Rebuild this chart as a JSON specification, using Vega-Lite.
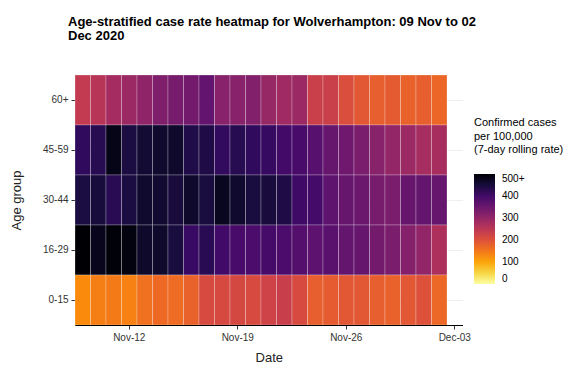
{
  "$schema": "https://vega.github.io/schema/vega-lite/v6.json",
  "width": 387.5,
  "height": 250,
  "autosize": {"type": "none"},
  "padding": {"left": 75, "top": 75, "right": 118.5, "bottom": 47},
  "background": "white",
  "title": {
    "text": ["Age-stratified case rate heatmap for Wolverhampton: 09 Nov to 02", "Dec 2020"],
    "anchor": "start",
    "frame": "group",
    "dx": -7,
    "font": "Liberation Sans",
    "fontSize": 13,
    "fontWeight": "bold",
    "color": "#000000",
    "lineHeight": 14,
    "offset": 32
  },
  "data": {
    "values": [
      {"a":"60+","d":"Nov-09","v":240},{"a":"60+","d":"Nov-10","v":255},{"a":"60+","d":"Nov-11","v":280},{"a":"60+","d":"Nov-12","v":290},{"a":"60+","d":"Nov-13","v":305},{"a":"60+","d":"Nov-14","v":325},{"a":"60+","d":"Nov-15","v":335},{"a":"60+","d":"Nov-16","v":340},{"a":"60+","d":"Nov-17","v":360},{"a":"60+","d":"Nov-18","v":315},{"a":"60+","d":"Nov-19","v":315},{"a":"60+","d":"Nov-20","v":320},{"a":"60+","d":"Nov-21","v":295},{"a":"60+","d":"Nov-22","v":285},{"a":"60+","d":"Nov-23","v":290},{"a":"60+","d":"Nov-24","v":230},{"a":"60+","d":"Nov-25","v":230},{"a":"60+","d":"Nov-26","v":205},{"a":"60+","d":"Nov-27","v":190},{"a":"60+","d":"Nov-28","v":180},{"a":"60+","d":"Nov-29","v":185},{"a":"60+","d":"Nov-30","v":175},{"a":"60+","d":"Dec-01","v":180},{"a":"60+","d":"Dec-02","v":170},
      {"a":"45-59","d":"Nov-09","v":420},{"a":"45-59","d":"Nov-10","v":430},{"a":"45-59","d":"Nov-11","v":480},{"a":"45-59","d":"Nov-12","v":445},{"a":"45-59","d":"Nov-13","v":455},{"a":"45-59","d":"Nov-14","v":460},{"a":"45-59","d":"Nov-15","v":462},{"a":"45-59","d":"Nov-16","v":438},{"a":"45-59","d":"Nov-17","v":440},{"a":"45-59","d":"Nov-18","v":418},{"a":"45-59","d":"Nov-19","v":430},{"a":"45-59","d":"Nov-20","v":420},{"a":"45-59","d":"Nov-21","v":412},{"a":"45-59","d":"Nov-22","v":398},{"a":"45-59","d":"Nov-23","v":392},{"a":"45-59","d":"Nov-24","v":375},{"a":"45-59","d":"Nov-25","v":355},{"a":"45-59","d":"Nov-26","v":345},{"a":"45-59","d":"Nov-27","v":330},{"a":"45-59","d":"Nov-28","v":315},{"a":"45-59","d":"Nov-29","v":300},{"a":"45-59","d":"Nov-30","v":290},{"a":"45-59","d":"Dec-01","v":278},{"a":"45-59","d":"Dec-02","v":275},
      {"a":"30-44","d":"Nov-09","v":445},{"a":"30-44","d":"Nov-10","v":450},{"a":"30-44","d":"Nov-11","v":428},{"a":"30-44","d":"Nov-12","v":445},{"a":"30-44","d":"Nov-13","v":460},{"a":"30-44","d":"Nov-14","v":458},{"a":"30-44","d":"Nov-15","v":448},{"a":"30-44","d":"Nov-16","v":462},{"a":"30-44","d":"Nov-17","v":447},{"a":"30-44","d":"Nov-18","v":472},{"a":"30-44","d":"Nov-19","v":460},{"a":"30-44","d":"Nov-20","v":447},{"a":"30-44","d":"Nov-21","v":448},{"a":"30-44","d":"Nov-22","v":440},{"a":"30-44","d":"Nov-23","v":403},{"a":"30-44","d":"Nov-24","v":396},{"a":"30-44","d":"Nov-25","v":365},{"a":"30-44","d":"Nov-26","v":355},{"a":"30-44","d":"Nov-27","v":350},{"a":"30-44","d":"Nov-28","v":335},{"a":"30-44","d":"Nov-29","v":330},{"a":"30-44","d":"Nov-30","v":355},{"a":"30-44","d":"Dec-01","v":358},{"a":"30-44","d":"Dec-02","v":355},
      {"a":"16-29","d":"Nov-09","v":560},{"a":"16-29","d":"Nov-10","v":475},{"a":"16-29","d":"Nov-11","v":495},{"a":"16-29","d":"Nov-12","v":488},{"a":"16-29","d":"Nov-13","v":462},{"a":"16-29","d":"Nov-14","v":462},{"a":"16-29","d":"Nov-15","v":447},{"a":"16-29","d":"Nov-16","v":410},{"a":"16-29","d":"Nov-17","v":428},{"a":"16-29","d":"Nov-18","v":400},{"a":"16-29","d":"Nov-19","v":392},{"a":"16-29","d":"Nov-20","v":388},{"a":"16-29","d":"Nov-21","v":395},{"a":"16-29","d":"Nov-22","v":388},{"a":"16-29","d":"Nov-23","v":378},{"a":"16-29","d":"Nov-24","v":368},{"a":"16-29","d":"Nov-25","v":370},{"a":"16-29","d":"Nov-26","v":358},{"a":"16-29","d":"Nov-27","v":355},{"a":"16-29","d":"Nov-28","v":340},{"a":"16-29","d":"Nov-29","v":330},{"a":"16-29","d":"Nov-30","v":318},{"a":"16-29","d":"Dec-01","v":302},{"a":"16-29","d":"Dec-02","v":268},
      {"a":"0-15","d":"Nov-09","v":128},{"a":"0-15","d":"Nov-10","v":142},{"a":"0-15","d":"Nov-11","v":146},{"a":"0-15","d":"Nov-12","v":138},{"a":"0-15","d":"Nov-13","v":157},{"a":"0-15","d":"Nov-14","v":165},{"a":"0-15","d":"Nov-15","v":163},{"a":"0-15","d":"Nov-16","v":175},{"a":"0-15","d":"Nov-17","v":210},{"a":"0-15","d":"Nov-18","v":212},{"a":"0-15","d":"Nov-19","v":214},{"a":"0-15","d":"Nov-20","v":210},{"a":"0-15","d":"Nov-21","v":222},{"a":"0-15","d":"Nov-22","v":232},{"a":"0-15","d":"Nov-23","v":210},{"a":"0-15","d":"Nov-24","v":180},{"a":"0-15","d":"Nov-25","v":184},{"a":"0-15","d":"Nov-26","v":190},{"a":"0-15","d":"Nov-27","v":190},{"a":"0-15","d":"Nov-28","v":180},{"a":"0-15","d":"Nov-29","v":175},{"a":"0-15","d":"Nov-30","v":190},{"a":"0-15","d":"Dec-01","v":200},{"a":"0-15","d":"Dec-02","v":168}
    ]
  },
  "mark": {"type": "rect", "stroke": "white", "strokeOpacity": 0.35, "strokeWidth": 0.7},
  "encoding": {
    "x": {
      "field": "d",
      "type": "ordinal",
      "scale": {
        "domain": ["Nov-09","Nov-10","Nov-11","Nov-12","Nov-13","Nov-14","Nov-15","Nov-16","Nov-17","Nov-18","Nov-19","Nov-20","Nov-21","Nov-22","Nov-23","Nov-24","Nov-25","Nov-26","Nov-27","Nov-28","Nov-29","Nov-30","Dec-01","Dec-02","Dec-03"],
        "paddingInner": 0,
        "paddingOuter": 0
      },
      "axis": {
        "values": ["Nov-12","Nov-19","Nov-26","Dec-03"],
        "labelAngle": 0,
        "title": "Date",
        "grid": false,
        "labelPadding": 3,
        "titlePadding": 9
      }
    },
    "y": {
      "field": "a",
      "type": "ordinal",
      "scale": {
        "domain": ["60+","45-59","30-44","16-29","0-15"],
        "paddingInner": 0,
        "paddingOuter": 0
      },
      "axis": {
        "title": "Age group",
        "grid": true,
        "zindex": 0,
        "bandPosition": 0.5,
        "gridColor": "#ebebeb",
        "gridWidth": 0.8,
        "labelPadding": 3,
        "titlePadding": 19
      }
    },
    "color": {
      "field": "v",
      "type": "quantitative",
      "scale": {"scheme": {"name": "inferno", "extent": [1, 0]}, "domain": [0, 500], "clamp": true},
      "legend": {
        "title": ["Confirmed cases", " per 100,000", " (7-day rolling rate)"],
        "orient": "none",
        "legendX": 399,
        "legendY": 42,
        "direction": "vertical",
        "gradientLength": 110,
        "gradientThickness": 21,
        "gradientStrokeWidth": 0,
        "values": [0, 100, 200, 300, 400, 500],
        "labelExpr": "datum.value == 500 ? '500+' : datum.label",
        "labelBaseline": "middle",
        "titleFontSize": 11,
        "titleFontWeight": "normal",
        "titleFont": "Liberation Sans",
        "titleColor": "#000000",
        "titleLineHeight": 13.5,
        "titlePadding": 19,
        "labelFontSize": 10,
        "labelFont": "Liberation Sans",
        "labelColor": "#000000",
        "labelOffset": 7
      }
    }
  },
  "config": {
    "view": {"stroke": null},
    "axis": {
      "domainColor": "#000000",
      "domainWidth": 1,
      "tickColor": "#333333",
      "tickSize": 4,
      "labelFont": "Liberation Sans",
      "labelFontSize": 10,
      "labelColor": "#333333",
      "titleFont": "Liberation Sans",
      "titleFontSize": 13,
      "titleFontWeight": "normal",
      "titleColor": "#222222"
    }
  }
}
